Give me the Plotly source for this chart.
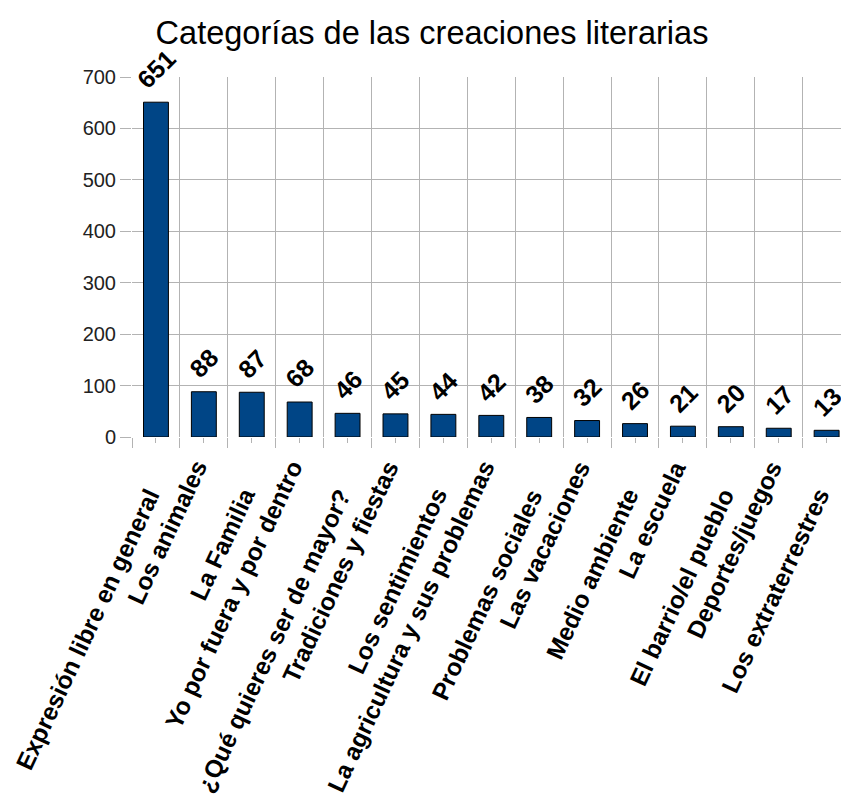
import plotly.graph_objects as go

# data
categories = [
    "Expresión libre en general",
    "Los animales",
    "La Familia",
    "Yo por fuera y por dentro",
    "¿Qué quieres ser de mayor?",
    "Tradiciones y fiestas",
    "Los sentimientos",
    "La agricultura y sus problemas",
    "Problemas sociales",
    "Las vacaciones",
    "Medio ambiente",
    "La escuela",
    "El barrio/el pueblo",
    "Deportes/juegos",
    "Los extraterrestres",
]
counts = [651, 88, 87, 68, 46, 45, 44, 42, 38, 32, 26, 21, 20, 17, 13]
y_ticks = [0, 100, 200, 300, 400, 500, 600, 700]

FONT = "Liberation Sans"
GRID = "#b3b3b3"
positions = list(range(len(categories)))

# page body has an 8px margin; keep the figure small enough that no scrollbar shows up
W, H = 833, 790

fig = go.Figure()

fig.add_trace(
    go.Bar(
        x=positions,
        y=counts,
        width=0.52,
        marker=dict(color="#004586", line=dict(color="#000000", width=1)),
        hoverinfo="skip",
        showlegend=False,
    )
)

# value labels above the bars, rotated
for i, v in enumerate(counts):
    fig.add_annotation(
        x=i, y=v, xref="x", yref="y",
        text=str(v), textangle=-45, showarrow=False,
        xanchor="center", yanchor="bottom", yshift=6,
        font=dict(family=FONT, size=25, color="#000000", weight="bold"),
    )

# staggered, rotated category labels under the axis
for i, name in enumerate(categories):
    fig.add_annotation(
        x=i, y=0, xref="x", yref="paper",
        text=name, textangle=-65, showarrow=False,
        xanchor="right", yanchor="top",
        xshift=11, yshift=-45 if i % 2 == 0 else -17,
        font=dict(family=FONT, size=24.5, color="#000000", weight="bold"),
    )

fig.update_layout(
    width=W,
    height=H,
    margin=dict(l=124, r=0, t=69, b=361),
    paper_bgcolor="white",
    plot_bgcolor="white",
    font=dict(family=FONT, color="#222222"),
    title=dict(
        text="Categorías de las creaciones literarias",
        x=424 / W, xanchor="center",
        y=1 - 25 / H, yanchor="middle",
        font=dict(family=FONT, size=32.5, color="#000000"),
    ),
    xaxis=dict(
        type="linear",
        range=[-0.5, 14.30],
        tickvals=positions,
        showticklabels=False,
        ticks="outside",
        ticklen=5,
        tickcolor=GRID,
        showgrid=False,
        zeroline=False,
        showline=False,
        minor=dict(
            tickvals=[p - 0.5 for p in positions] + [len(positions) - 0.5],
            ticks="outside",
            ticklen=10,
            tickcolor=GRID,
            showgrid=True,
            gridcolor=GRID,
            gridwidth=1,
        ),
    ),
    yaxis=dict(
        range=[0, 700],
        tickvals=y_ticks,
        ticks="outside",
        ticklen=11,
        tickcolor=GRID,
        showgrid=True,
        gridcolor=GRID,
        gridwidth=1,
        zeroline=False,
        showline=False,
        tickfont=dict(family=FONT, size=20, color="#222222"),
    ),
)

fig.write_html("out.html")
